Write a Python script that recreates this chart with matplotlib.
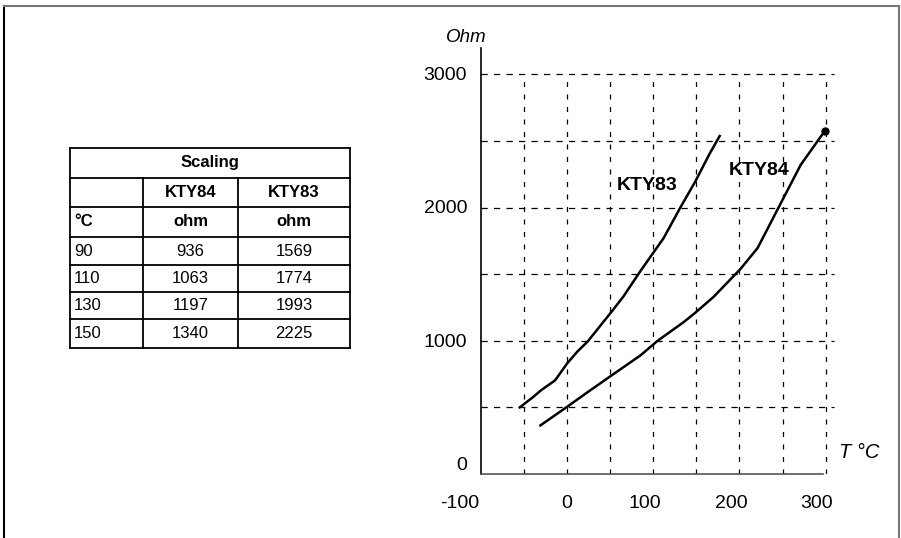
import matplotlib.pyplot as plt
from matplotlib.lines import Line2D

plt.rcParams['font.family'] = ['Liberation Sans', 'DejaVu Sans']

# courbes
kty83_t = [-55, -40, -30, -14, 0, 12, 24, 38, 52, 65, 85, 112, 131, 149, 165, 177]
kty83_r = [500, 575, 630, 703, 830, 920, 996, 1109, 1222, 1330, 1523, 1771, 1996, 2199, 2400, 2537]
kty84_t = [-31, -1, 25, 50, 85, 105, 135, 149, 170, 201, 221, 245, 271, 299]
kty84_r = [365, 500, 620, 733, 890, 1000, 1139, 1212, 1330, 1538, 1696, 1996, 2320, 2575]

# tableau
tab_temp = ['90', '110', '130', '150']
tab_kty84 = ['936', '1063', '1197', '1340']
tab_kty83 = ['1569', '1774', '1993', '2225']

x_ticks = [-100, 0, 100, 200, 300]
y_ticks = [0, 1000, 2000, 3000]
grid_x = [-50, 0, 50, 100, 150, 200, 250, 300]
grid_y = [500, 1000, 1500, 2000, 2500, 3000]

W, H = 901, 538
fig = plt.figure(figsize=(W / 100, H / 100), dpi=100)

# cadre de la figure
fig.add_artist(Line2D([4 / W, 4 / W], [0, 1 - 6 / H], color='black', lw=1.5))
fig.add_artist(Line2D([4 / W, 899 / W], [1 - 6 / H, 1 - 6 / H], color='#777777', lw=1.5))
fig.add_artist(Line2D([899 / W, 899 / W], [0, 1 - 6 / H], color='#777777', lw=1.5))

ax = fig.add_axes([481 / W, 64 / H, 355 / W, 429 / H])
ax.set_xlim(-100, 312)
ax.set_ylim(0, 3220)
for s in ['top', 'right']:
    ax.spines[s].set_visible(False)
ax.spines['left'].set_bounds(0, 3200)
ax.spines['bottom'].set_bounds(-100, 297)
ax.spines['left'].set_linewidth(1.2)
ax.spines['bottom'].set_linewidth(1.2)
ax.spines['bottom'].set_color('#555555')
ax.set_xticks([])
ax.set_yticks([])

# grille pointillée
for gx in grid_x:
    ax.plot([gx, gx], [0, 3000], color='black', lw=0.9, ls=(0, (4, 6)))
for gy in grid_y:
    ax.plot([-100, 310], [gy, gy], color='black', lw=0.9, ls=(0, (5, 5)))

ax.plot(kty83_t, kty83_r, color='black', lw=1.8)
ax.plot(kty84_t, kty84_r, color='black', lw=1.8)
ax.plot(kty84_t[-1], kty84_r[-1], 'o', color='black', ms=5)

# étiquettes des axes
x_off = {-100: -15, 0: 0, 100: -6, 200: -6, 300: -6.5}
for v in x_ticks:
    ax.annotate(str(v), (v, 0), xytext=(x_off[v], -21), textcoords='offset points',
                ha='center', va='center', fontsize=14, annotation_clip=False)
for v in y_ticks:
    ax.annotate(str(v), (-100, v), xytext=(-10, 6 if v == 0 else -1), textcoords='offset points',
                ha='right', va='center', fontsize=14, annotation_clip=False)

ax.text(-141, 3280, 'Ohm', fontsize=13.5, style='italic', ha='left', va='center', clip_on=False)
ax.text(316, 165, 'T °C', fontsize=14.5, style='italic', ha='left', va='center', clip_on=False)
ax.text(58, 2165, 'KTY83', fontsize=14, weight='bold', ha='left', va='center')
ax.text(188, 2275, 'KTY84', fontsize=14, weight='bold', ha='left', va='center')

# tableau de mise à l'échelle (en pixels)
tl, tr, c1, c2 = 70, 350, 143, 238
rows = [148, 178, 207, 237, 265, 292, 319, 348]


def fx(px):
    return px / W


def fy(py):
    return 1 - py / H


lc = 'black'
for i, r in enumerate(rows):
    fig.add_artist(Line2D([fx(tl), fx(tr)], [fy(r), fy(r)], color=lc, lw=1.3))
fig.add_artist(Line2D([fx(tl), fx(tl)], [fy(rows[0]), fy(rows[-1])], color=lc, lw=1.3))
fig.add_artist(Line2D([fx(tr), fx(tr)], [fy(rows[0]), fy(rows[-1])], color=lc, lw=1.3))
for c in [c1, c2]:
    fig.add_artist(Line2D([fx(c), fx(c)], [fy(rows[1]), fy(rows[-1])], color=lc, lw=1.3))

fs = 12


def cell(txt, px, row, ha='center', bold=False):
    yc = (rows[row] + rows[row + 1]) / 2
    fig.text(fx(px), fy(yc), txt, ha=ha, va='center', fontsize=fs,
             weight='bold' if bold else 'normal')


cell('Scaling', (tl + tr) / 2, 0, bold=True)
cell('KTY84', (c1 + c2) / 2, 1, bold=True)
cell('KTY83', (c2 + tr) / 2, 1, bold=True)
cell('°C', tl + 4, 2, ha='left', bold=True)
cell('ohm', (c1 + c2) / 2, 2, bold=True)
cell('ohm', (c2 + tr) / 2, 2, bold=True)
for i in range(len(tab_temp)):
    cell(tab_temp[i], tl + 4, 3 + i, ha='left')
    cell(tab_kty84[i], (c1 + c2) / 2, 3 + i)
    cell(tab_kty83[i], (c2 + tr) / 2, 3 + i)

fig.savefig('out.png', dpi=100)
